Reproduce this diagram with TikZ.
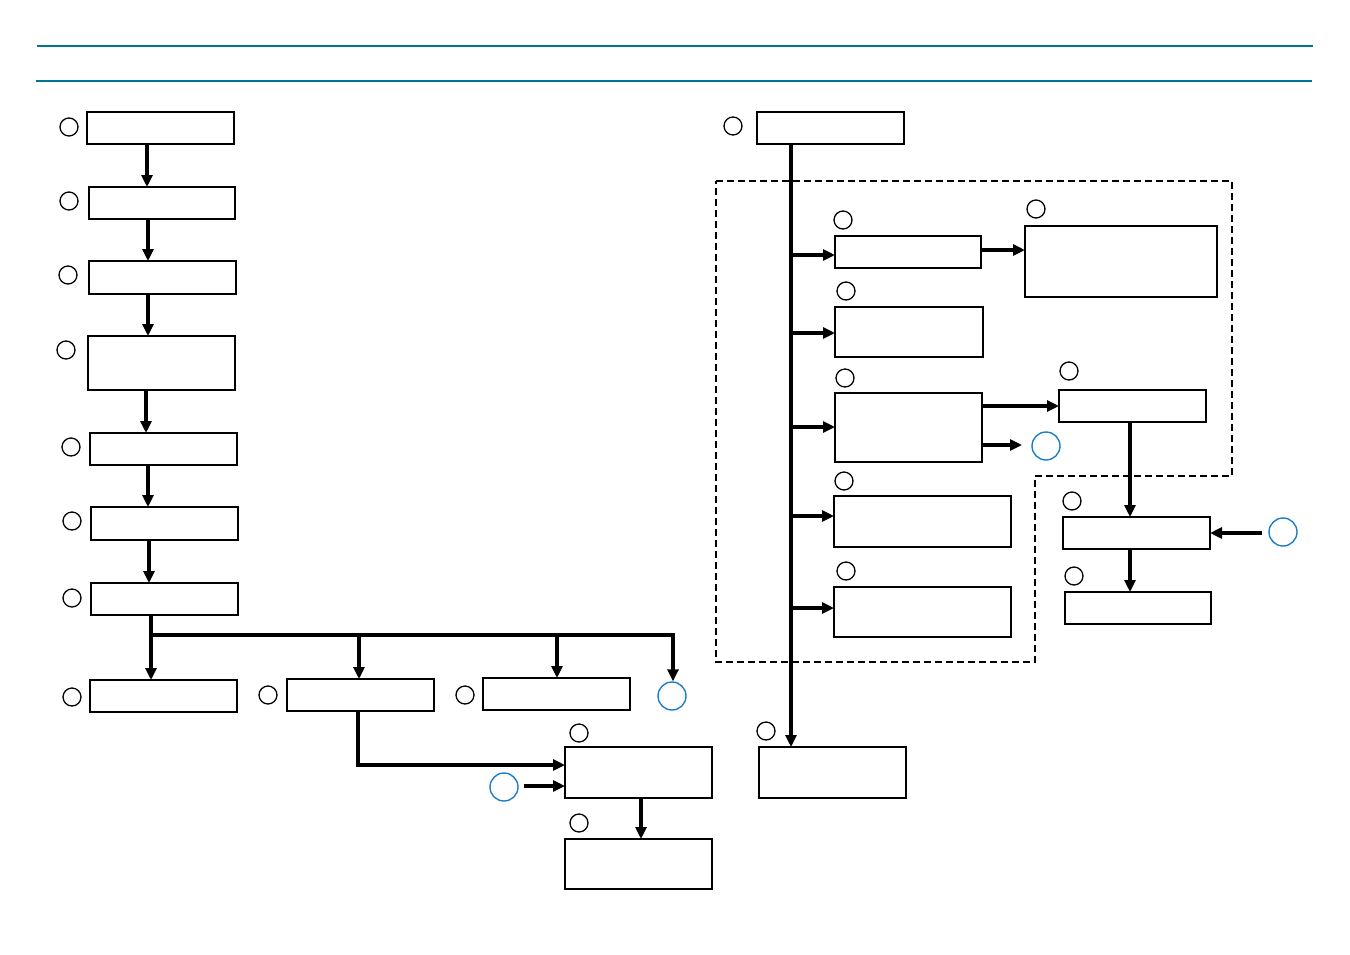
\documentclass[tikz,border=0pt]{standalone}
\usetikzlibrary{arrows.meta}
\definecolor{teal1}{HTML}{00758F}
\definecolor{blue1}{HTML}{1A7FC8}
\tikzset{
  box/.style={draw, line width=1.8pt, inner sep=0pt, outer sep=0pt, anchor=north west},
  circ/.style={draw, circle, line width=1.3pt, inner sep=0pt, minimum size=18pt},
  bcirc/.style={draw=blue1, circle, line width=1.4pt, inner sep=0pt, minimum size=28pt},
  arr/.style={line width=3.2pt, -{Triangle[length=12pt,width=11pt]}},
  ln/.style={line width=3.2pt},
  dashbox/.style={line width=1.3pt, dash pattern=on 7pt off 4pt},
}
\begin{document}
\begin{tikzpicture}[x=1pt,y=-1pt]
\useasboundingbox (0,0) rectangle (1350,954);
% header lines
\coordinate (h1a) at (37,46); \coordinate (h1b) at (1313,46);
\coordinate (h2a) at (36,81); \coordinate (h2b) at (1312,81);
\draw[teal1, line width=1.3pt] (h1a) -- (h1b);
\draw[teal1, line width=2.4pt] (h2a) -- (h2b);

% left column
\node[box, minimum width=147pt, minimum height=32pt] (b1) at (87,112) {};
\node[box, minimum width=146pt, minimum height=32pt] (b2) at (89,187) {};
\node[box, minimum width=147pt, minimum height=33pt] (b3) at (89,261) {};
\node[box, minimum width=147pt, minimum height=54pt] (b4) at (88,336) {};
\node[box, minimum width=147pt, minimum height=32pt] (b5) at (90,433) {};
\node[box, minimum width=147pt, minimum height=33pt] (b6) at (91,507) {};
\node[box, minimum width=147pt, minimum height=32pt] (b7) at (91,583) {};
\node[circ] (c1) at (69,127) {};
\node[circ] (c2) at (69,201) {};
\node[circ] (c3) at (68,275) {};
\node[circ] (c4) at (66,350) {};
\node[circ] (c5) at (71,447) {};
\node[circ] (c6) at (72,521) {};
\node[circ] (c7) at (72,598) {};
\draw[arr] (147,0 |- b1.south) -- (147,0 |- b2.north);
\draw[arr] (148,0 |- b2.south) -- (148,0 |- b3.north);
\draw[arr] (148,0 |- b3.south) -- (148,0 |- b4.north);
\draw[arr] (146,0 |- b4.south) -- (146,0 |- b5.north);
\draw[arr] (148,0 |- b5.south) -- (148,0 |- b6.north);
\draw[arr] (149,0 |- b6.south) -- (149,0 |- b7.north);

% bottom row
\node[box, minimum width=147pt, minimum height=32pt] (r1) at (90,680) {};
\node[box, minimum width=147pt, minimum height=32pt] (r2) at (287,679) {};
\node[box, minimum width=147pt, minimum height=32pt] (r3) at (483,678) {};
\node[bcirc] (bc1) at (672,696) {};
\node[circ] (cr1) at (72,697) {};
\node[circ] (cr2) at (268,695) {};
\node[circ] (cr3) at (465,695) {};
\coordinate (j) at (151,635);
\draw[ln] (151,0 |- b7.south) -- (j) -- (674.6,635);
\draw[arr] (j) -- (151,0 |- r1.north);
\draw[arr] (359,635) -- (359,0 |- r2.north);
\draw[arr] (557,635) -- (557,0 |- r3.north);
\draw[arr] (673,634) -- (673,0 |- bc1.north);

% lower middle
\node[box, minimum width=147pt, minimum height=51pt] (m1) at (565,747) {};
\node[box, minimum width=147pt, minimum height=50pt] (m2) at (565,839) {};
\node[circ] (cm1) at (579,733) {};
\node[circ] (cm2) at (579,823) {};
\node[bcirc] (bc2) at (504,787) {};
\draw[arr] (358,0 |- r2.south) -- (358,765) -- (m1.west |- 0,765);
\draw[arr] (bc2.east) ++(5,-1) -- (m1.west |- 0,786);
\draw[arr] (641,0 |- m1.south) -- (641,0 |- m2.north);

% right part
\draw[dashbox] (716,181) -- (1232,181) -- (1232,476) -- (1035,476) -- (1035,662) -- (716,662) -- cycle;
\node[box, minimum width=147pt, minimum height=32pt] (t0) at (757,112) {};
\node[circ] (ct0) at (733,126) {};
\node[box, minimum width=147pt, minimum height=51pt] (t9) at (759,747) {};
\node[circ] (ct9) at (766,731) {};
\draw[arr] (791,0 |- t0.south) -- (791,0 |- t9.north);

\node[box, minimum width=146pt, minimum height=32pt] (A) at (835,236) {};
\node[box, minimum width=192pt, minimum height=71pt] (B) at (1025,226) {};
\node[box, minimum width=148pt, minimum height=50pt] (C) at (835,307) {};
\node[box, minimum width=147pt, minimum height=69pt] (D) at (835,393) {};
\node[box, minimum width=147pt, minimum height=32pt] (E) at (1059,390) {};
\node[box, minimum width=147pt, minimum height=32pt] (F) at (1063,517) {};
\node[box, minimum width=146pt, minimum height=32pt] (G) at (1065,592) {};
\node[box, minimum width=177pt, minimum height=51pt] (H) at (834,496) {};
\node[box, minimum width=177pt, minimum height=50pt] (I) at (834,587) {};
\node[circ] (cA) at (843,220) {};
\node[circ] (cB) at (1036,209) {};
\node[circ] (cC) at (846,291) {};
\node[circ] (cD) at (845,378) {};
\node[circ] (cE) at (1069,371) {};
\node[circ] (cF) at (1072,501) {};
\node[circ] (cG) at (1074,576) {};
\node[circ] (cH) at (844,481) {};
\node[circ] (cI) at (846,571) {};
\node[bcirc] (bc3) at (1046,446) {};
\node[bcirc] (bc4) at (1283,532) {};

\draw[arr] (791,255) -- (A.west |- 0,255);
\draw[arr] (791,333) -- (C.west |- 0,333);
\draw[arr] (791,427) -- (D.west |- 0,427);
\draw[arr] (791,516) -- (H.west |- 0,516);
\draw[arr] (791,608) -- (I.west |- 0,608);
\draw[arr] (A.east |- 0,250) -- (B.west |- 0,250);
\draw[arr] (D.east |- 0,406) -- (E.west |- 0,406);
\draw[arr] (D.east |- 0,445) -- (1022,445);
\draw[arr] (1130,0 |- E.south) -- (1130,0 |- F.north);
\draw[arr] (1130,0 |- F.south) -- (1130,0 |- G.north);
\draw[arr] (1262,533) -- (F.east |- 0,533);
\end{tikzpicture}
\end{document}
